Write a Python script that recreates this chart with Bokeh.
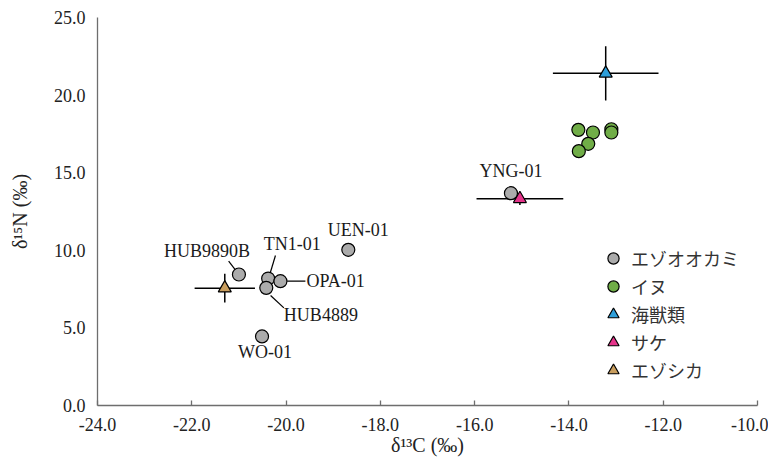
from bokeh.plotting import figure
from bokeh.models import Range1d, FixedTicker, PrintfTickFormatter, Legend, LegendItem
from bokeh.core.properties import value
from bokeh.embed import file_html
from bokeh.resources import INLINE

# ---------------- data ----------------
x_ticks = [-24, -22, -20, -18, -16, -14, -12, -10]
y_ticks = [0, 5, 10, 15, 20, 25]

wolf_names = ["HUB9890B", "TN1-01", "OPA-01", "HUB4889", "WO-01", "UEN-01", "YNG-01"]
wolf_x = [-21.00, -20.38, -20.12, -20.42, -20.51, -18.68, -15.23]
wolf_y = [8.44, 8.18, 8.01, 7.58, 4.45, 10.03, 13.68]

dog_x = [-13.80, -13.49, -13.10, -13.10, -13.59, -13.79]
dog_y = [17.76, 17.59, 17.80, 17.59, 16.86, 16.39]

marine_x = [-13.22]
marine_y = [21.40]
marine_xerr = [1.12]
marine_yerr = [1.75]

salmon_x = [-15.04]
salmon_y = [13.32]
salmon_xerr = [0.92]
salmon_yerr = [0.40]

deer_x = [-21.30]
deer_y = [7.56]
deer_xerr = [0.64]
deer_yerr = [0.93]

legend_labels = ["エゾオオカミ", "イヌ", "海獣類", "サケ", "エゾシカ"]
x_title = "δ¹³C (‰)"
y_title = "δ¹⁵N (‰)"

# ---------------- layout ----------------
W, H = 768, 459
ML, MR, MT, MB = 97, 11, 17, 54
FW, FH = W - ML - MR, H - MT - MB
XPX = FW / (x_ticks[-1] - x_ticks[0])
YPX = FH / (y_ticks[-1] - y_ticks[0])

# label offsets in pixels (dx, dy up, align)
label_off = {
    "HUB9890B": (-32, 24, "center"),
    "TN1-01": (24, 35, "center"),
    "OPA-01": (26, 0, "left"),
    "HUB4889": (17.6, -27, "left"),
    "WO-01": (3, -16, "center"),
    "UEN-01": (10, 20, "center"),
    "YNG-01": (0, 22, "center"),
}
leader_off = {
    "HUB9890B": ((-2.6, 3.3), (-10.3, 13.3)),
    "TN1-01": ((1.6, 4), (7.3, 23)),
    "OPA-01": ((6.7, 0), (25, 0)),
    "HUB4889": ((4.3, -7.7), (17.6, -20)),
}

SERIF = "Liberation Serif"
C_WOLF = "#ABABAB"
C_DOG = "#70AD47"
C_MAR = "#2E9FDA"
C_SAL = "#E5338A"
C_DEER = "#C99E5E"
TXT = "#222222"

p = figure(width=W, height=H, x_range=Range1d(-24, -10), y_range=Range1d(0, 25),
           output_backend="svg", toolbar_location=None,
           min_border_left=ML, min_border_right=MR, min_border_top=MT, min_border_bottom=MB)
p.outline_line_color = None
p.xgrid.visible = False
p.ygrid.visible = False
p.background_fill_color = "white"
p.border_fill_color = "white"

# axes
p.xaxis.ticker = FixedTicker(ticks=x_ticks)
p.yaxis.ticker = FixedTicker(ticks=y_ticks)
p.xaxis.formatter = PrintfTickFormatter(format="%.1f")
p.yaxis.formatter = PrintfTickFormatter(format="%.1f")
for ax in (p.xaxis[0], p.yaxis[0]):
    ax.axis_line_color = "#6E6E6E"
    ax.axis_line_width = 1.3
    ax.major_tick_line_color = "#6E6E6E"
    ax.major_tick_line_width = 1.3
    ax.minor_tick_line_color = None
    ax.major_label_text_font = SERIF
    ax.major_label_text_font_size = "18px"
    ax.major_label_text_color = TXT
    ax.axis_label_text_font = SERIF
    ax.axis_label_text_font_size = "20px"
    ax.axis_label_text_font_style = "normal"
    ax.axis_label_text_color = TXT
p.xaxis.major_tick_in = 5
p.xaxis.major_tick_out = 0
p.yaxis.major_tick_in = 0
p.yaxis.major_tick_out = 0
p.xaxis.major_label_standoff = 12
p.yaxis.major_label_standoff = 12
p.xaxis.axis_label = x_title
p.yaxis.axis_label = y_title
p.xaxis.axis_label_standoff = 0
p.yaxis.axis_label_standoff = 20

# error bars
ex0, ex1, ey, vx, vy0, vy1 = [], [], [], [], [], []
for xs, ys, xe, ye in ((marine_x, marine_y, marine_xerr, marine_yerr),
                       (salmon_x, salmon_y, salmon_xerr, salmon_yerr),
                       (deer_x, deer_y, deer_xerr, deer_yerr)):
    for x, y, a, b in zip(xs, ys, xe, ye):
        ex0.append(x - a); ex1.append(x + a); ey.append(y)
        vx.append(x); vy0.append(y - b); vy1.append(y + b)
p.segment(x0=ex0, y0=ey, x1=ex1, y1=ey, line_color="black", line_width=1.5)
p.segment(x0=vx, y0=vy0, x1=vx, y1=vy1, line_color="black", line_width=1.5)

# leader lines
lx0, ly0, lx1, ly1 = [], [], [], []
for n, x, y in zip(wolf_names, wolf_x, wolf_y):
    if n in leader_off:
        (a, b), (c, d) = leader_off[n]
        lx0.append(x + a / XPX); ly0.append(y + b / YPX)
        lx1.append(x + c / XPX); ly1.append(y + d / YPX)
p.segment(x0=lx0, y0=ly0, x1=lx1, y1=ly1, line_color="black", line_width=1.2)

# markers
r_wolf = p.scatter(wolf_x, wolf_y, marker="circle", size=13, fill_color=C_WOLF, line_color="black", line_width=1.2)
r_dog = p.scatter(dog_x, dog_y, marker="circle", size=13, fill_color=C_DOG, line_color="black", line_width=1.2)
r_mar = p.scatter(marine_x, marine_y, marker="triangle", size=13, fill_color=C_MAR, line_color="black", line_width=1.2)
r_sal = p.scatter(salmon_x, salmon_y, marker="triangle", size=13, fill_color=C_SAL, line_color="black", line_width=1.2)
r_deer = p.scatter(deer_x, deer_y, marker="triangle", size=13, fill_color=C_DEER, line_color="black", line_width=1.2)

# sample labels
for align in ("center", "left"):
    tx, ty, tt = [], [], []
    for n, x, y in zip(wolf_names, wolf_x, wolf_y):
        dx, dy, al = label_off[n]
        if al == align:
            tx.append(x + dx / XPX); ty.append(y + dy / YPX); tt.append(n)
    p.text(x=tx, y=ty, text=tt, text_font=value(SERIF), text_font_size="18px",
           text_align=align, text_baseline="middle", text_color="#1a1a1a")

legend = Legend(items=[LegendItem(label=l, renderers=[r]) for l, r in
                       zip(legend_labels, [r_wolf, r_dog, r_mar, r_sal, r_deer])],
                location=(500, 21), orientation="vertical",
                padding=0, margin=0, spacing=0,
                glyph_width=32, glyph_height=28, label_height=28, label_standoff=2,
                border_line_color=None, background_fill_alpha=0,
                label_text_font="Noto Sans CJK JP", label_text_font_size="18px",
                label_text_color="#333333")
p.add_layout(legend)

open("out.html", "w").write(file_html(p, INLINE))
